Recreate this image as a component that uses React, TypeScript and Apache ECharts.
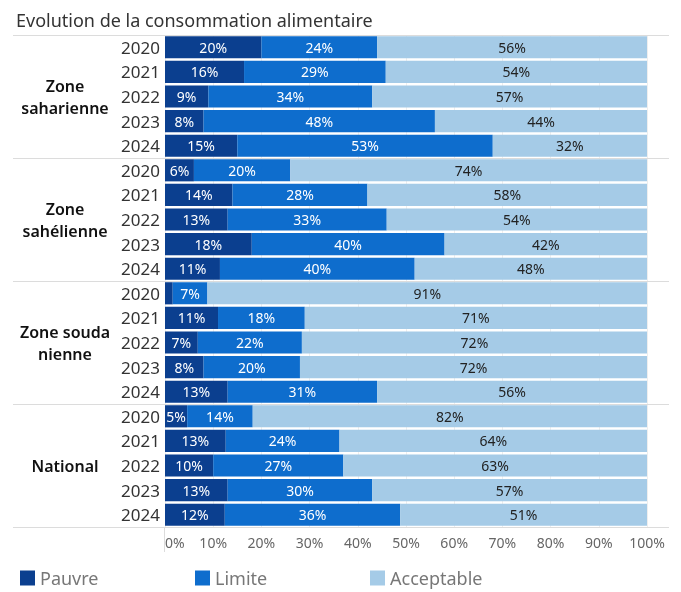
import React, { useEffect, useRef } from "react";
import * as echarts from "echarts";

const groups = ["Zone\nsaharienne", "Zone\nsahélienne", "Zone souda\nnienne", "National"];
const years = ["2020", "2021", "2022", "2023", "2024"];
const seriesNames = ["Pauvre", "Limite", "Acceptable"];
const colors = ["#0B3F8F", "#0E6DCD", "#A5CBE7"];

// values in %, rows: group x year (top to bottom)
const pauvre = [
  20, 16.4, 9, 8, 15,
  6, 14, 13, 18, 11.4,
  1.6, 11, 6.8, 8, 13,
  4.6, 12.6, 10, 13, 12.4,
];
const limite = [
  24, 29.4, 34, 48, 53,
  20, 28, 33, 40, 40.4,
  7.2, 18, 21.6, 20, 31,
  13.6, 23.6, 27, 30, 36.4,
];
const acceptable = [
  56, 54.2, 57, 44, 32,
  74, 58, 54, 42, 48.2,
  91.2, 71, 71.6, 72, 56,
  81.8, 63.8, 63, 57, 51.2,
];

const xTicks = [0, 10, 20, 30, 40, 50, 60, 70, 80, 90, 100];

const FONT = "Noto Sans";

export default function App() {
  const ref = useRef<HTMLDivElement>(null);
  useEffect(() => {
    if (!ref.current) return;
    const chart = echarts.init(ref.current, undefined, { renderer: "svg" });
    const rowYears: string[] = [];
    const rowGroupLabel: string[] = [];
    groups.forEach((g) => {
      years.forEach((y, i) => {
        rowYears.push(y);
        rowGroupLabel.push(i === 2 ? g : "");
      });
    });
    const allData = [pauvre, limite, acceptable];
    const legendLefts = [15, 190, 365];
    chart.setOption({
      animation: false,
      textStyle: { fontFamily: FONT },
      title: {
        text: "Evolution de la consommation alimentaire",
        left: 11,
        top: 6,
        textStyle: { fontFamily: FONT, fontSize: 18, fontWeight: "normal", color: "#333" },
      },
      legend: seriesNames.map((n, i) => ({
        left: legendLefts[i],
        top: 564,
        icon: "rect",
        itemWidth: 15,
        itemHeight: 15,
        data: [n],
        selectedMode: false,
        textStyle: {
          fontFamily: FONT,
          fontSize: 18,
          color: "#777",
        },
      })),
      grid: { left: 165, right: 34, top: 35, bottom: 65 },
      xAxis: {
        type: "value",
        min: 0,
        max: 100,
        interval: 10,
        axisLine: { show: false },
        axisTick: { show: false },
        splitLine: { show: true, lineStyle: { color: "#eeeeee", width: 1 } },
        axisLabel: {
          formatter: "{value}%",
          color: "#666",
          fontSize: 14,
          fontFamily: FONT,
          margin: 8,
          alignMinLabel: "left",
          customValues: xTicks,
        },
      },
      yAxis: [
        {
          type: "category",
          inverse: true,
          data: rowYears,
          axisLine: { show: false },
          axisTick: { show: false },
          axisLabel: { color: "#333", fontSize: 17, fontFamily: FONT, margin: 5 },
        },
        {
          type: "category",
          inverse: true,
          position: "left",
          data: rowGroupLabel,
          axisLine: { show: false },
          axisTick: { show: false },
          axisLabel: {
            interval: 0,
            color: "#111",
            fontSize: 16,
            fontWeight: 600,
            fontFamily: FONT,
            align: "center",
            margin: 100,
            lineHeight: 22,
          },
        },
      ],
      series: seriesNames.map((name, si) => ({
        name,
        type: "bar",
        stack: "total",
        yAxisIndex: 0,
        barCategoryGap: "10%",
        itemStyle: { color: colors[si] },
        label: {
          show: true,
          position: "inside",
          fontSize: 14,
          fontFamily: FONT,
          color: si === 2 ? "#222" : "#fff",
          formatter: (p: any) => (p.value < 3 ? "" : Math.round(p.value) + "%"),
        },
        data: allData[si],
      })),
    });

    // separators between groups, derived from the category axis
    const c0 = chart.convertToPixel({ yAxisIndex: 0 }, 0) as number;
    const c1 = chart.convertToPixel({ yAxisIndex: 0 }, 1) as number;
    const band = c1 - c0;
    const lines: any[] = [];
    for (let g = 0; g <= groups.length; g++) {
      const idx = g * years.length;
      const y = Math.round(c0 + band * idx - band / 2) + 0.5;
      lines.push({
        type: "line",
        shape: { x1: 13, y1: y, x2: 669, y2: y },
        style: { stroke: "#dcdcdc", lineWidth: 1 },
        z: 10,
      });
    }
    const yBottom = Math.round(c0 + band * (groups.length * years.length) - band / 2);
    const xZero = Math.round(chart.convertToPixel({ xAxisIndex: 0 }, 0) as number) - 0.5;
    lines.push({
      type: "line",
      shape: { x1: xZero, y1: yBottom, x2: xZero, y2: yBottom + 25 },
      style: { stroke: "#dcdcdc", lineWidth: 1 },
      z: 10,
    });
    chart.setOption({ graphic: lines });

    return () => chart.dispose();
  }, []);
  return (
    <div
      ref={ref}
      style={{ position: "fixed", left: 0, top: 0, width: 681, height: 592 }}
    />
  );
}
